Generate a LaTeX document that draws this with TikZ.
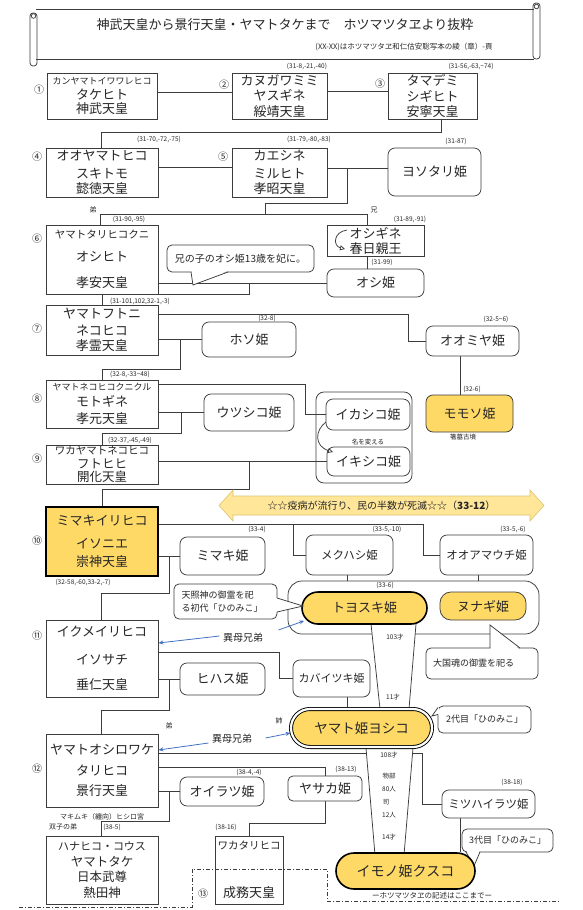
\documentclass[tikz,border=0pt]{standalone}
\usepackage{fontspec}
\setmainfont{Noto Sans CJK JP}
\usepackage{xcolor}
\usepackage{tikz}
\usetikzlibrary{arrows.meta}
\definecolor{himegold}{RGB}{255,217,102}
\definecolor{plaguefill}{RGB}{255,230,153}
\definecolor{plagueedge}{RGB}{222,196,110}
\definecolor{ibolink}{RGB}{68,114,196}
\definecolor{kline}{RGB}{60,60,60}
\pgfdeclarelayer{bg}
\pgfsetlayers{bg,main}
\newcommand{\smallkana}[2]{{\fontsize{#1}{#1}\selectfont #2}}
\tikzset{
  kingbox/.style={draw=kline, line width=0.75pt, fill=white, align=center, inner sep=0pt, font=\fontsize{13}{15.5}\selectfont},
  himebox/.style={kingbox, rounded corners=7pt},
  goldhime/.style={himebox, fill=himegold},
  pillhime/.style={goldhime, draw=black, line width=1.6pt, font=\fontsize{14}{16}\selectfont},
  notebox/.style={draw=kline, line width=0.75pt, fill=white, rounded corners=5pt, inner sep=0pt, align=left, font=\fontsize{9}{13}\selectfont},
  groupbox/.style={draw=kline, line width=0.75pt, inner sep=0pt},
  pagenote/.style={inner sep=0pt, font=\fontsize{6.5}{7}\selectfont},
  smalltxt/.style={inner sep=0pt, font=\fontsize{7}{8}\selectfont},
  gennum/.style={inner sep=0pt, font=\fontsize{10}{10}\selectfont},
  linkline/.style={draw=kline, line width=0.75pt},
  iboarrow/.style={-{Stealth[length=5pt,width=4pt]}, draw=ibolink, line width=0.8pt},
  renamearrow/.style={-{Triangle[open,length=5pt,width=5pt]}, draw=kline, line width=0.75pt},
  eraline/.style={draw=kline, line width=0.75pt, dash pattern=on 4pt off 2pt on 1pt off 2pt}
}

\begin{document}
\begin{tikzpicture}[x=1pt, y=-1pt, every node/.style={text=black!85}]
  \useasboundingbox (0,0) rectangle (582,910);
  \begin{pgfonlayer}{bg}
    \fill[white] (0,0) rectangle (582,910);
  \end{pgfonlayer}

  % scroll header
  \draw[linkline] (36,9) -- (534,9);
  \draw[linkline] (36,59) -- (534,59);
  \draw[linkline, rounded corners=3pt] (30,13) rectangle (37,66);
  \draw[linkline] (33.5,16) circle (2.3pt);
  \draw[linkline, rounded corners=3pt] (533,3) rectangle (540,59);
  \draw[linkline] (536.5,6.5) circle (2.3pt);
  \node[font=\fontsize{13}{13}\selectfont] (title) at (285,25) {神武天皇から景行天皇・ヤマトタケまで　ホツマツタヱより抜粋};
  \node[font=\fontsize{7.5}{8}\selectfont] (subtitle) at (404,47) {(XX-XX)はホツマツタヱ和仁估安聡写本の綾（章）-頁};

  % 1-3
  \node[kingbox, minimum width=110pt, minimum height=46pt] (k1) at (102,96) {\smallkana{9}{カンヤマトイワワレヒコ}\\[-1pt]タケヒト\\[-1.5pt]神武天皇};
  \node[kingbox, minimum width=95pt, minimum height=46pt] (k2) at (279.5,96) {カヌガワミミ\\ヤスギネ\\綏靖天皇};
  \node[kingbox, minimum width=89pt, minimum height=46pt] (k3) at (432.5,96) {タマデミ\\シギヒト\\安寧天皇};
  \node[gennum] (g1) at (39,90) {①};
  \node[gennum] (g2) at (224,85) {②};
  \node[gennum] (g3) at (380,84) {③};
  \node[pagenote] (n2) at (307,66) {(31-8,-21,-40)};
  \node[pagenote] (n3) at (471,66) {(31-56,-63,\textasciitilde74)};

  % 4-5
  \node[kingbox, minimum width=112pt, minimum height=49pt] (k4) at (102,172.5) {オオヤマトヒコ\\[2pt]スキトモ\\懿徳天皇};
  \node[kingbox, minimum width=95pt, minimum height=49pt] (k5) at (279.5,172.5) {カエシネ\\[2pt]ミルヒト\\孝昭天皇};
  \node[himebox, minimum width=93pt, minimum height=48pt] (yosotari) at (434.5,172) {ヨソタリ姫};
  \node[gennum] (g4) at (37,157) {④};
  \node[gennum] (g5) at (223,157) {⑤};
  \node[pagenote] (n4) at (159,139) {(31-70,-72,-75)};
  \node[pagenote] (n5) at (309,139) {(31-79,-80,-83)};
  \node[pagenote] (n6) at (456,141) {(31-87)};

  % 6
  \node[smalltxt] (t6a) at (93,210) {弟};
  \node[smalltxt] (t6b) at (374,210) {兄};
  \node[kingbox, minimum width=112pt, minimum height=69pt] (k6) at (102,259.5) {\smallkana{10.5}{ヤマトタリヒコクニ}\\[7pt]オシヒト\\[11pt]孝安天皇};
  \node[gennum] (g6) at (37,239) {⑥};
  \node[pagenote] (n7) at (129,219) {(31-90,-95)};
  \node[kingbox, minimum width=97pt, minimum height=31pt, font=\fontsize{13}{15}\selectfont] (oshigine) at (375.5,240.5) {オシギネ\\春日親王};
  \draw[renamearrow] (347,230) .. controls (333,232) and (333,246) .. (345,249);
  \node[pagenote] (n8) at (410,219) {(31-89,-91)};
  \node[himebox, minimum width=97pt, minimum height=28pt] (oshihime) at (375.5,283) {オシ姫};
  \node[pagenote] (n9) at (382,262) {(31-99)};
  \node[notebox, minimum width=147pt, minimum height=27pt, align=center, font=\fontsize{10}{12}\selectfont] (wifenote) at (240.5,258.5) {兄の子のオシ姫13歳を妃に。};
  \fill[white] (191.5,271) -- (193,285) -- (227.5,271) -- cycle;
  \draw[linkline] (191,272) -- (193,285) -- (228,272);

  % 7
  \node[kingbox, minimum width=112pt, minimum height=50pt] (k7) at (102,330) {ヤマトフトニ\\[1pt]ネコヒコ\\孝霊天皇};
  \node[gennum] (g7) at (37,329) {⑦};
  \node[pagenote] (n10) at (140,301) {(31-101,102,32-1,-3)};
  \node[himebox, minimum width=94pt, minimum height=35pt] (hoso) at (249,339.5) {ホソ姫};
  \node[pagenote] (n11) at (267,318) {(32-8)};
  \node[himebox, minimum width=93pt, minimum height=30pt] (oomiya) at (472.5,341) {オオミヤ姫};
  \node[pagenote] (n12) at (496,319) {(32-5\textasciitilde6)};

  % 8
  \node[kingbox, minimum width=112pt, minimum height=48pt] (k8) at (102,404) {\smallkana{9}{ヤマトネコヒコクニクル}\\モトギネ\\[1.5pt]孝元天皇};
  \node[gennum] (g8) at (37,399) {⑧};
  \node[pagenote] (n13) at (130,374) {(32-8,-33\textasciitilde48)};
  \node[himebox, minimum width=90pt, minimum height=37pt] (utsushiko) at (249,412.5) {ウツシコ姫};
  \node[groupbox, rounded corners=8pt, minimum width=96pt, minimum height=91pt] (ikagroup) at (364,437.5) {};
  \node[himebox, minimum width=84pt, minimum height=31pt] (ikashiko) at (368,414.5) {イカシコ姫};
  \node[himebox, minimum width=83pt, minimum height=29pt] (ikishiko) at (368.5,461.5) {イキシコ姫};
  \node[pagenote] (t8) at (368,442) {名を変える};
  \draw[renamearrow] (326,422) .. controls (315,430) and (314,446) .. (333,452);
  \node[goldhime, minimum width=87pt, minimum height=37pt] (momoso) at (469.5,413.5) {モモソ姫};
  \node[pagenote] (n14) at (472,389) {(32-6)};
  \node[pagenote] (t8b) at (463,437) {箸墓古墳};

  % 9
  \node[kingbox, minimum width=112pt, minimum height=39pt, font=\fontsize{12.5}{14}\selectfont] (k9) at (102,464.5) {\smallkana{10.5}{ワカヤマトネコヒコ}\\[0.5pt]フトヒヒ\\[-1pt]開化天皇};
  \node[gennum] (g9) at (37,459) {⑨};
  \node[pagenote] (n15) at (130,440) {(32-37,-45,-49)};

  % 10
  \filldraw[fill=plaguefill, draw=plagueedge, line width=0.6pt] (219,505.5) -- (233,490) -- (233,496) -- (530,496) -- (530,490) -- (544,505.5) -- (530,521) -- (530,515) -- (233,515) -- (233,521) -- cycle;
  \node[font=\fontsize{10}{10}\selectfont] (plague) at (381.5,505.5) {☆☆疫病が流行り、民の半数が死滅☆☆（\textbf{33-12}）};
  \node[kingbox, fill=himegold, draw=black, line width=1.5pt, minimum width=112pt, minimum height=69pt] (k10) at (102,541.5) {ミマキイリヒコ\\[7pt]イソニエ\\[3pt]崇神天皇};
  \node[gennum] (g10) at (37,541) {⑩};
  \node[pagenote] (n16) at (83,582) {(32-58,-60,33-2,-7)};
  \node[himebox, minimum width=85pt, minimum height=38pt] (mimaki) at (222.5,556) {ミマキ姫};
  \node[pagenote] (n17) at (257,529) {(33-4)};
  \node[himebox, minimum width=87pt, minimum height=40pt, font=\fontsize{11.5}{13}\selectfont] (mekuhashi) at (349.5,555) {メクハシ姫};
  \node[pagenote] (n18) at (387,529) {(33-5,-10)};
  \node[himebox, minimum width=93pt, minimum height=40pt, font=\fontsize{11.5}{13}\selectfont] (ooamauchi) at (486.5,555) {オオアマウチ姫};
  \node[pagenote] (n19) at (513,529) {(33-5,-6)};

  % toyosuki group and the two tubes
  \node[groupbox, rounded corners=14pt, minimum width=251pt, minimum height=53pt] (toyogroup) at (413.5,607.5) {};
  \fill[white] (371,624) -- (416,624) -- (409,709) -- (380,709) -- cycle;
  \draw[linkline] (371,624) -- (380,709);
  \draw[linkline] (416,624) -- (409,709);
  \fill[white] (366,748) -- (413,748) -- (404,855) -- (375,855) -- cycle;
  \draw[linkline] (366,748) -- (375,855);
  \draw[linkline] (413,748) -- (404,855);
  \node[pillhime, rounded corners=16pt, minimum width=125pt, minimum height=32pt, font=\fontsize{13}{15}\selectfont] (toyosuki) at (364.5,608) {トヨスキ姫};
  \node[goldhime, rounded corners=11pt, minimum width=86pt, minimum height=28pt] (nunagi) at (483,606) {ヌナギ姫};
  \node[pagenote] (n20) at (385,585) {(33-6)};
  \node[notebox, minimum width=103pt, minimum height=35pt, text width=88pt, font=\fontsize{9}{13}\selectfont] (hinomiko1) at (225.5,601.5) {天照神の御霊を祀\\る初代「ひのみこ」};
  \fill[white] (276,598) -- (303,606) -- (276,612) -- cycle;
  \draw[linkline] (277,598) -- (303,606) -- (277,612);
  \node[notebox, minimum width=112pt, minimum height=31pt, text width=98pt] (oodamanote) at (482,663.5) {大国魂の御霊を祀る};
  \fill[white] (490.5,649) -- (490,625) -- (519,649) -- cycle;
  \draw[linkline] (490,648) -- (490,625) -- (520,648);
  \node[font=\fontsize{10}{10}\selectfont] (ibo1) at (243,638) {異母兄弟};
  \node[pagenote] (t103) at (395,637) {103才};
  \node[pagenote] (t11) at (393,697) {11才};

  % 11
  \node[kingbox, minimum width=112pt, minimum height=77pt] (k11) at (102,658.5) {イクメイリヒコ\\[12pt]イソサチ\\[10pt]垂仁天皇};
  \node[gennum] (g11) at (37,636) {⑪};
  \node[himebox, minimum width=85pt, minimum height=32pt] (hihasu) at (222.5,679) {ヒハス姫};
  \node[himebox, minimum width=77pt, minimum height=37pt, font=\fontsize{11}{13}\selectfont] (kabaitsuki) at (331.5,678.5) {カバイツキ姫};

  % yamato hime
  \node[goldhime, draw=black, line width=0.9pt, double=white, double distance=2.2pt, rounded corners=19pt, minimum width=141pt, minimum height=38pt, font=\fontsize{13.5}{15}\selectfont] (yamato) at (361.5,728) {ヤマト姫ヨシコ};
  \node[notebox, minimum width=93pt, minimum height=27pt, align=center] (hinomiko2) at (484.5,719.5) {2代目「ひのみこ」};
  \fill[white] (439,707.5) -- (432,716) -- (439,714.5) -- cycle;
  \draw[linkline] (438,707.5) -- (432,716) -- (438,714.5);
  \node[smalltxt] (t12) at (279,721) {姉};
  \node[font=\fontsize{10}{10}\selectfont] (ibo2) at (232,739) {異母兄弟};
  \node[smalltxt] (t12b) at (169,726) {弟};

  % 12
  \node[kingbox, minimum width=112pt, minimum height=73pt] (k12) at (102,770.5) {ヤマトオシロワケ\\[5pt]タリヒコ\\[5pt]景行天皇};
  \node[gennum] (g12) at (37,769) {⑫};
  \node[smalltxt] (t12c) at (102,817) {マキムキ（纏向）ヒシロ宮};
  \node[himebox, minimum width=84pt, minimum height=29pt] (oiratsu) at (222,791.5) {オイラツ姫};
  \node[pagenote] (n21) at (249,772) {(38-4,-4)};
  \node[himebox, rounded corners=5pt, minimum width=74pt, minimum height=25pt] (yasaka) at (325,788.5) {ヤサカ姫};
  \node[pagenote] (n22) at (346,769) {(38-13)};
  \node[pagenote] (t108) at (389,755) {108才};
  \node[pagenote] (t108b) at (389,776) {物部};
  \node[pagenote] (t108c) at (389,789) {80人};
  \node[pagenote] (t108d) at (386,802) {司};
  \node[pagenote] (t108e) at (389,815) {12人};
  \node[pagenote] (t108f) at (389,837) {14才};
  \node[himebox, minimum width=93pt, minimum height=28pt, font=\fontsize{11.5}{13}\selectfont] (mitsuha) at (488.5,804) {ミツハイラツ姫};
  \node[pagenote] (n23) at (512,782) {(38-18)};
  \node[notebox, minimum width=91pt, minimum height=23pt, align=center] (hinomiko3) at (507.5,840.5) {3代目「ひのみこ」};
  \fill[white] (466.5,851) -- (474,866) -- (479.5,851) -- cycle;
  \draw[linkline] (466,852) -- (474,866) -- (480,852);
  \node[pillhime, rounded corners=18pt, minimum width=139pt, minimum height=36pt] (imono) at (405.5,871) {イモノ姫クスコ};
  \node[font=\fontsize{7.5}{8}\selectfont, inner sep=0pt] (t13) at (432,896) {ーホツマツタヱの記述はここまでー};

  % 13 and yamatotake
  \node[smalltxt] (t13a) at (63,827) {双子の弟};
  \node[pagenote] (n24) at (112,827) {(38-5)};
  \node[kingbox, minimum width=112pt, minimum height=68pt, font=\fontsize{12.5}{15.5}\selectfont] (hanahiko) at (102,870) {\smallkana{11}{ハナヒコ・コウス}\\ヤマトタケ\\日本武尊\\熱田神};
  \node[kingbox, minimum width=68pt, minimum height=68pt] (wakatari) at (249,870) {\smallkana{10.5}{ワカタリヒコ}\\[32pt]成務天皇};
  \node[pagenote] (n25) at (226,827) {(38-16)};
  \node[gennum] (g13) at (203,894) {⑬};
  \draw[eraline] (19,907) -- (192,907) -- (192,869) -- (327,869) -- (327,901) -- (559,901);

  % blue arrows
  \draw[iboarrow] ([yshift=2pt]ibo1.west) -- ([yshift=15.5pt]k11.east);
  \draw[iboarrow] ([xshift=12pt,yshift=8pt]ibo1.east) -- ([xshift=3pt,yshift=4pt]toyosuki.south west);
  \draw[iboarrow] ([yshift=-4pt]ibo2.west) -- ([yshift=20.5pt]k12.east);
  \draw[iboarrow] ([xshift=10pt,yshift=1pt]ibo2.east) -- ([yshift=-5pt]yamato.west);

  % lines
  \begin{pgfonlayer}{bg}
    \coordinate (j5) at (347,168);
    \coordinate (sib6) at (265,215);
    \coordinate (j6) at (249,283);
    \coordinate (j7) at (180,339.5);
    \coordinate (j8) at (181,412.5);
    \coordinate (j9) at (249,461.5);
    \coordinate (j10) at (293,524);
    \coordinate (j10b) at (169,556);
    \coordinate (j11) at (169,679);
    \coordinate (j12) at (169,791.5);
    \draw[linkline] ([yshift=4pt]k1.east) -- ([yshift=4pt]k2.west);
    \draw[linkline] ([yshift=5pt]k2.east) -- ([yshift=5pt]k3.west);
    \draw[linkline] ([xshift=8.5pt]k3.south) -- ++(0,13) -| ([xshift=-1pt]k4.north);
    \draw[linkline] ([yshift=5.5pt]k4.east) -- ([yshift=5.5pt]k5.west);
    \draw[linkline] ([yshift=4.5pt]k5.east) -- ([yshift=4pt]yosotari.west);
    \draw[linkline] (j5) -- ++(0,35) -| (sib6);
    \draw[linkline] ([xshift=-2pt]k6.north) -- ++(0,-10) -| ([xshift=-8.5pt]oshigine.north);
    \draw[linkline] ([xshift=-8.5pt]oshigine.south) -- ([xshift=-8.5pt]oshihime.north);
    \draw[linkline] (k6.east |- oshihime) -- (oshihime.west);
    \draw[linkline] (j6) -- ++(0,11) -| (k7.north);
    \draw[linkline] ([yshift=16pt]k7.east) -| ([xshift=-17pt]oomiya.west) -- (oomiya.west);
    \draw[linkline] (k7.east |- hoso) -- (hoso.west);
    \draw[linkline] (j7) -- ++(0,29.5) -| (k8.north);
    \draw[linkline] ([xshift=-12.5pt]oomiya.south) -- ([xshift=-12.5pt]oomiya.south |- momoso.north);
    \draw[linkline] ([yshift=20pt]k8.east) -| ([xshift=-20pt]ikashiko.west) -- (ikashiko.west);
    \draw[linkline] (k8.east |- utsushiko) -- (utsushiko.west);
    \draw[linkline] (j8) -- ++(0,20.5) -| (k9.north);
    \draw[linkline] (k9.east |- ikishiko) -- (ikishiko.west);
    \draw[linkline] (j9) -- ++(0,27.5) -| (k10.north);
    \draw[linkline] ([yshift=17.5pt]k10.east) -| ([xshift=-16pt]ooamauchi.west) -- (ooamauchi.west);
    \draw[linkline] (j10) |- (mekuhashi.west);
    \draw[linkline] (k10.east |- mimaki) -- (mimaki.west);
    \draw[linkline] (j10b) -- ++(0,37) -| ([xshift=-1pt]k11.north);
    \draw[linkline] ([xshift=-2.5pt]mekuhashi.south) -- ([xshift=-2.5pt]mekuhashi.south |- toyogroup.north);
    \draw[linkline] ([xshift=-8.5pt]ooamauchi.south) -- ([xshift=-8.5pt]ooamauchi.south |- toyogroup.north);
    \draw[linkline] ([yshift=6.5pt]k11.east) -| ([xshift=-13pt]kabaitsuki.west) -- (kabaitsuki.west);
    \draw[linkline] (k11.east |- hihasu) -- (hihasu.west);
    \draw[linkline] (j11) -- ++(0,31) -| ([xshift=-1pt]k12.north);
    \draw[linkline] ([xshift=15.5pt]kabaitsuki.south) -- ([xshift=15.5pt]kabaitsuki.south |- yamato.north);
    \draw[linkline] ([yshift=17.5pt]k12.east) -| ([xshift=-19pt]mitsuha.west) -- (mitsuha.west);
    \draw[linkline] ([yshift=3.5pt]k12.east) -| (yasaka.north);
    \draw[linkline] (k12.east |- oiratsu) -- (oiratsu.west);
    \draw[linkline] (j12) -- ++(0,29.5) -| ([xshift=-1pt]hanahiko.north);
    \draw[linkline] (yasaka.south) -- ++(0,21.5) -| (wakatari.north);
    \draw[linkline] ([xshift=-28.5pt]mitsuha.south) -- ([xshift=-28.5pt]mitsuha.south |- imono.north);
  \end{pgfonlayer}
\end{tikzpicture}
\end{document}
